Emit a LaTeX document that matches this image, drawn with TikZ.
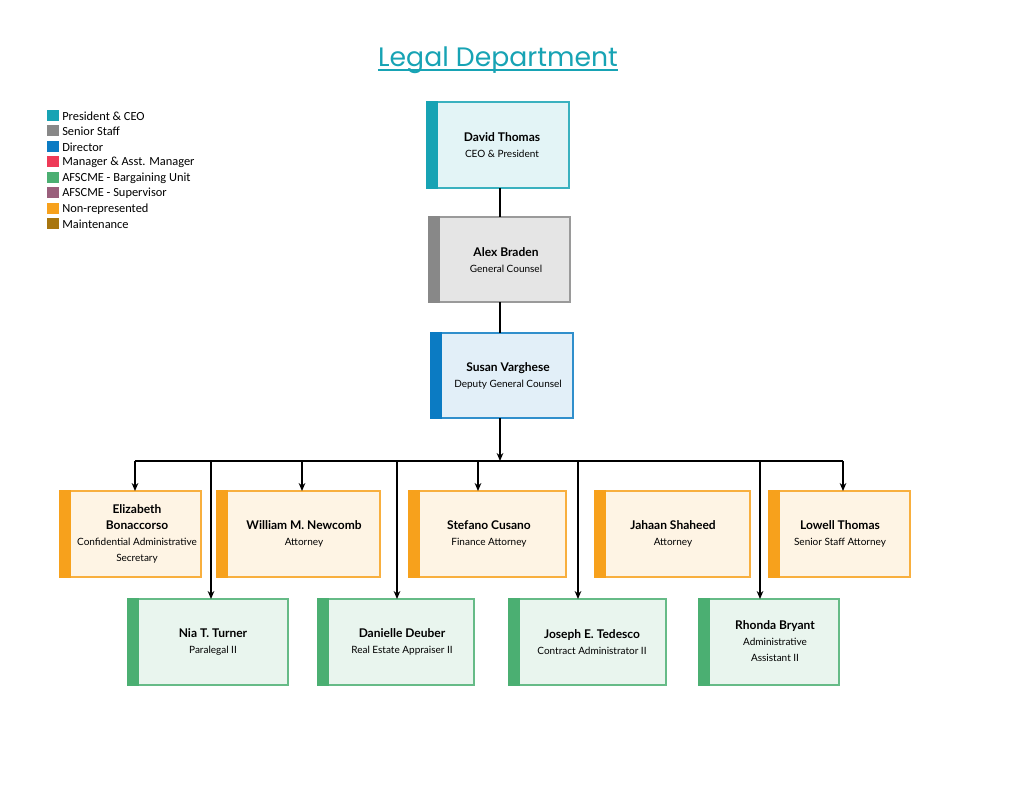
\documentclass[tikz,border=0pt]{standalone}
\usepackage{fontspec}
\setmainfont{Carlito}
\newfontfamily\titlefont{Poppins}
\newfontfamily\boxfont{Lato}
\usetikzlibrary{arrows.meta}
\definecolor{cteal}{HTML}{17A3B4}
\definecolor{cgray}{HTML}{888888}
\definecolor{cblue}{HTML}{0B7BC3}
\definecolor{cred}{HTML}{EE3A57}
\definecolor{cgreen}{HTML}{4BAF72}
\definecolor{cpurple}{HTML}{9A5F7C}
\definecolor{corange}{HTML}{F7A11C}
\definecolor{cbrown}{HTML}{A8760F}
\newcommand{\nmf}{\boxfont\bfseries\fontsize{9}{10.5}\selectfont}
\newcommand{\ttf}{\boxfont\fontsize{7.5}{9}\selectfont}
\tikzset{
  conn/.style={line width=0.9pt,black},
  arr/.style={conn,-{Stealth[length=6pt,width=5pt]}},
  lbl/.style={align=center,inner sep=0},
}
% box: #1 color, #2 fill, #3 x1, #4 y1, #5 x2, #6 y2, #7 name
\newcommand{\orgbox}[7]{%
  \fill[#2] (#3,#4) rectangle (#5,#6);
  \draw[#1!85,line width=0.9pt] (#3,#4) rectangle (#5,#6);
  \fill[#1] (#3-0.7,#4-0.7) rectangle ({#3+11},#6+0.7);
  \coordinate (#7) at ({(#3+#5)/2},{(#4+#6)/2});
}
\begin{document}
\begin{tikzpicture}[x=0.75pt,y=-0.75pt]
\useasboundingbox (0,0) rectangle (1024,791);
\node[font=\titlefont\fontsize{20}{24}\selectfont,text=cteal,inner sep=0] (title) at (498,60) {Legal Department};
\draw[cteal,line width=1.3pt] (title.south west) ++(0,-4) coordinate (u1) -- (u1 -| title.south east);
% legend
\foreach \c/\t [count=\i from 0] in {cteal/President \& CEO,cgray/Senior Staff,cblue/Director,cred/Manager \& Asst. Manager,cgreen/AFSCME - Bargaining Unit,cpurple/AFSCME - Supervisor,corange/Non-represented,cbrown/Maintenance}{
  \fill[\c] (47,{110+15.5*\i}) rectangle (59,{121+15.5*\i});
  \node[anchor=west,inner sep=0,font=\fontsize{9.3}{10}\selectfont] at (62,{116+15.5*\i}) {\t};
}
% boxes
\orgbox{cteal}{cteal!12}{427}{102}{569}{188}{dt}
\orgbox{cgray}{cgray!22}{429}{217}{570}{302}{ab}
\orgbox{cblue}{cblue!12}{431}{333}{573}{418}{sv}
\orgbox{corange}{corange!12}{60}{491}{201}{577}{eb}
\orgbox{corange}{corange!12}{217}{491}{380}{577}{wn}
\orgbox{corange}{corange!12}{409}{491}{566}{577}{sc}
\orgbox{corange}{corange!12}{595}{491}{750}{577}{js}
\orgbox{corange}{corange!12}{769}{491}{910}{577}{lt}
\orgbox{cgreen}{cgreen!12}{128}{599}{288}{685}{nt}
\orgbox{cgreen}{cgreen!12}{318}{599}{474}{685}{dd}
\orgbox{cgreen}{cgreen!12}{509}{599}{666}{685}{jt}
\orgbox{cgreen}{cgreen!12}{699}{599}{839}{685}{rb}
% texts
\node[lbl] (tdt) at (502,145) {{\nmf David Thomas}\\{\ttf CEO \& President}};
\node[lbl] (tab) at (506,260) {{\nmf Alex Braden}\\{\ttf General Counsel}};
\node[lbl] (tsv) at (508,376) {{\nmf Susan Varghese}\\{\ttf Deputy General Counsel}};
\node[lbl] (teb) at (137,534) {{\nmf Elizabeth}\\{\nmf Bonaccorso}\\{\ttf Confidential Administrative}\\{\ttf Secretary}};
\node[lbl] (twn) at (304,534) {{\nmf William M. Newcomb}\\{\ttf Attorney}};
\node[lbl] (tsc) at (489,534) {{\nmf Stefano Cusano}\\{\ttf Finance Attorney}};
\node[lbl] (tjs) at (673,534) {{\nmf Jahaan Shaheed}\\{\ttf Attorney}};
\node[lbl] (tlt) at (840,534) {{\nmf Lowell Thomas}\\{\ttf Senior Staff Attorney}};
\node[lbl] (tnt) at (213,642) {{\nmf Nia T. Turner}\\{\ttf Paralegal II}};
\node[lbl] (tdd) at (402,642) {{\nmf Danielle Deuber}\\{\ttf Real Estate Appraiser II}};
\node[lbl] (tjt) at (592,642) {{\nmf Joseph E. Tedesco}\\{\ttf Contract Administrator II}};
\node[lbl] (trb) at (775,641) {{\nmf Rhonda Bryant}\\{\ttf Administrative}\\{\ttf Assistant II}};
% connectors
\coordinate (d1) at (500,188); \coordinate (a1) at (500,217);
\coordinate (a2) at (500,302); \coordinate (s1) at (500,333);
\coordinate (s2) at (500,418); \coordinate (bus) at (500,461);
\coordinate (bl) at (135,461); \coordinate (br) at (843,461);
\draw[conn] (d1) -- (a1);
\draw[conn] (a2) -- (s1);
\draw[arr] (s2) -- (bus);
\draw[conn] (bl) -- (br);
\foreach \x in {135,302,478,843} \draw[arr] (\x,461) -- (\x,491);
\foreach \x in {211,397,578,760} \draw[arr] (\x,461) -- (\x,599);
\end{tikzpicture}
\end{document}
